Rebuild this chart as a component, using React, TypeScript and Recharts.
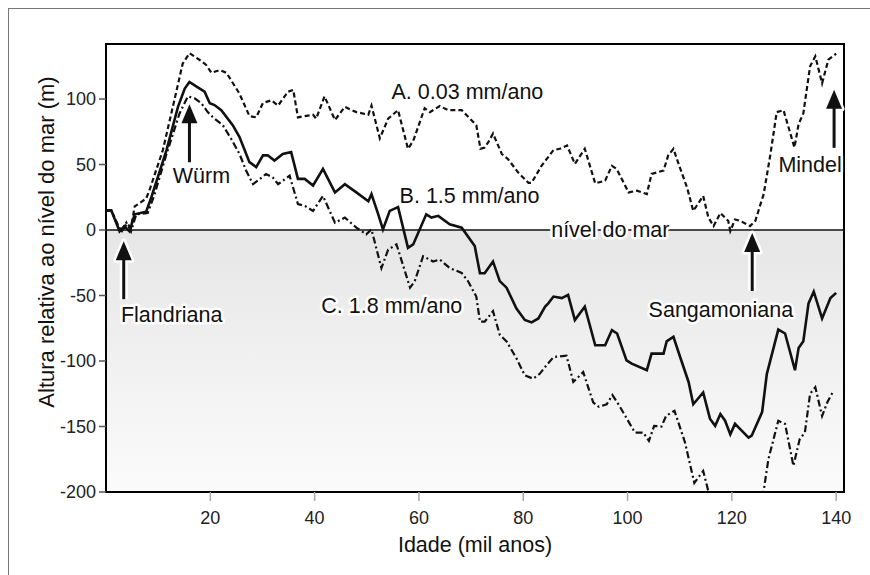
import React from 'react';
import { LineChart, Line, XAxis, YAxis, ReferenceArea, ReferenceLine, ReferenceDot } from 'recharts';

// idade (mil anos) e altura relativa ao nível do mar (m)
const ageA = [0, 1, 2.5, 3.2, 4, 4.8, 5.5, 7.7, 8.3, 10.9, 13.1, 14.7, 16, 17.9, 19.2, 20.2, 21.8, 23.1, 25.6, 27.5,
  28.8, 30.1, 31.7, 33, 34.9, 35.9, 36.8, 39.7, 40.3, 41.9, 43.9, 45.8, 48, 50.3, 50.9, 52.5, 54.1, 56, 57.9, 58.9,
  61.1, 62.1, 64, 65.6, 68.2, 71, 71.8, 72.6, 73.3, 74.2, 75.9, 77.1, 79, 81, 81.6, 83.5, 85.8, 87, 88.4, 89.9,
  91.8, 93.8, 95.7, 97, 97.9, 100.2, 101.8, 103.7, 104.6, 106.9, 107.8, 108.8, 110, 111.4, 112.6, 114.5, 115.5,
  116.5, 117.8, 119.3, 119.7, 120.6, 121.6, 123.5, 124.5, 126.1, 127.4, 128.6, 129.9, 132, 132.8, 133.7, 135, 136,
  137.3, 138.5, 140];
const levelA = [15, 15, 2, -1, 5, 2, 18, 24, 30, 61, 99, 127, 135, 130, 126, 120, 122, 120, 104, 87,
  86, 97, 99, 95, 105.6, 107, 86, 88, 85, 102, 84, 94, 90, 88, 95, 70, 85, 91.5, 62, 68,
  93, 90, 94.6, 91.5, 91.5, 80, 62, 63, 67, 73.6, 58, 54, 44, 36, 36, 49, 61, 62, 64.6, 50.5,
  62, 35.6, 37.7, 49, 46.7, 28.7, 30, 27.4, 42.8, 45.4, 57, 62, 48, 32.5, 14.6, 26, 9.5,
  3, 13, 7, -0.8, 8, 7, 3, 7, 27.4, 58, 90, 91.5, 63, 81, 89, 125, 132.6,
  112, 130, 134.6];

const ageB = [0, 1, 2.6, 3.5, 4.5, 5.5, 7.7, 8.7, 11.6, 13.8, 15.1, 16, 17.3, 18.9, 19.9, 20.8, 22.1, 24.3, 25.6, 27.5,
  28.8, 30.1, 31, 32.3, 33.9, 35.5, 36.8, 38.1, 39.7, 41.6, 43.9, 45.8, 48, 50.3, 50.9, 52.2, 53.1, 54.4, 56, 57.9,
  58.9, 61.4, 62.4, 63.7, 65.9, 68.2, 70.7, 71.7, 72.6, 74.2, 75.5, 76.8, 78.7, 80.3, 81.6, 82.9, 84.2, 84.8, 85.8, 87.4,
  88.6, 89.9, 91.8, 93.8, 95.7, 97, 98, 99.8, 100.8, 103.7, 104.6, 106.9, 107.5, 108.8, 110, 111.7, 112.6, 114.5, 115.8, 116.8,
  117.8, 118.7, 119.7, 120.6, 123.2, 123.8, 125.8, 126.7, 128.9, 130.2, 132.1, 132.8, 133.7, 134.7, 135.7, 137.3, 138.9, 140];
const levelB = [15, 15, -1, 3, -1, 12, 14, 25, 61, 94, 108, 113, 109.6, 105.6, 96.7, 95.4, 91.5, 80, 71, 51.8,
  48, 57, 57, 53, 58, 59.5, 39, 39, 34, 46.7, 28.7, 35, 28.7, 22, 27.4, 12, 0.5, 14.6, 17.5, -13.6,
  -11, 12, 9.5, 10.8, 4.4, 1.8, -12.3, -33, -33, -24, -39, -44, -60, -68.7, -70.5, -67.5, -58.5, -56, -50.8, -52,
  -49.5, -68.7, -58.5, -88, -88, -76.4, -79, -99.5, -102, -107, -94.4, -94.4, -85, -81.5, -96, -116, -133, -124, -144, -149.5,
  -140.5, -145.6, -156, -148, -158.5, -157, -139, -110, -76, -79, -107, -90, -85, -56, -47, -67.5, -52, -48];

const ageC = [0, 1, 2.9, 3.9, 4.8, 5.8, 8, 9.3, 11.6, 14.1, 15.7, 17, 18.3, 19.5, 20.8, 22.4, 24, 25.6, 26.9, 28.2,
  29.5, 30.7, 32, 33, 35.2, 36.8, 38.1, 39.7, 41.6, 43.9, 45.8, 48, 49.9, 50.9, 52.8, 54.1, 55.7, 58.3, 59.2, 60.8,
  62.7, 64, 65.9, 68.2, 69.4, 71, 71.7, 72.6, 74.2, 75.5, 76.8, 78.7, 80.3, 81.9, 83.2, 84.5, 85.8, 88.3, 89.6, 91.5,
  93.4, 94.5, 96, 97.1, 98.4, 100.3, 101.4, 103, 104.1, 105.1, 106.5, 107.4, 109, 111, 112.8, 114.5, 116.5, 125.5, 127, 128.9,
  130.2, 131.8, 133, 134, 135, 136, 137.3, 138.3, 139.5];
const levelC = [15, 15, -2, 5.6, -1, 12, 13, 27, 58, 89, 102, 100.5, 96.7, 90, 85, 80, 69.6, 58, 45, 35,
  39, 42.8, 40, 35, 41.5, 19.8, 18.5, 14.6, 26, 5.6, 9.5, 1.8, -3.3, 0.5, -29, -15, -11, -44, -39, -20,
  -24, -22.5, -29, -32.8, -39, -50.8, -70, -70, -62, -80, -85, -98, -111, -113.5, -109.6, -103, -97, -96, -116, -108.5,
  -131.5, -135, -133, -126, -134, -147, -154.6, -154.6, -161, -149.5, -150, -141.8, -138, -162, -193, -184, -215, -215, -175, -145.6,
  -148, -180, -159.7, -154.6, -125, -120, -142, -131.5, -122.6];

const xTicks = [20, 40, 60, 80, 100, 120, 140];
const yTicks = [-200, -150, -100, -50, 0, 50, 100];

const seriesA = ageA.map((age, i) => ({ age, level: levelA[i] }));
const seriesB = ageB.map((age, i) => ({ age, level: levelB[i] }));
const seriesC = ageC.map((age, i) => ({ age, level: levelC[i] }));

// textos e setas do gráfico (posição em idade / altura)
const notes = [
  { text: 'A. 0.03 mm/ano', age: 69.3, level: 105 },
  { text: 'B. 1.5 mm/ano', age: 69.7, level: 26 },
  { text: 'C. 1.8 mm/ano', age: 54.8, level: -58 },
  { text: 'nível do mar', age: 96.7, level: 0 },
  { text: 'Würm', age: 18.3, level: 41.5 },
  { text: 'Flandriana', age: 12.6, level: -64.6 },
  { text: 'Sangamoniana', age: 117.9, level: -60.8 },
  { text: 'Mindel', age: 135, level: 50 },
];
const arrows = [
  { age: 16.0, level: 96 },
  { age: 3.4, level: -8.5 },
  { age: 123.9, level: -2.3 },
  { age: 139.6, level: 107 },
];

const FONT = 'Arial, "Liberation Sans", sans-serif';
const INK = '#111';

const NoteText = (props: any) => {
  const { cx, cy, text } = props;
  return (
    <text x={cx} y={cy} textAnchor="middle" dominantBaseline="central" fontFamily={FONT} fontSize={21.5}
      fill={INK} stroke="#fff" strokeWidth={5} strokeLinejoin="round" paintOrder="stroke">
      {text}
    </text>
  );
};

const Arrow = (props: any) => {
  const { cx, cy } = props;
  const head = `M${cx},${cy} L${cx - 8},${cy + 19} L${cx + 8},${cy + 19} Z`;
  return (
    <g>
      <path d={head} fill="#fff" stroke="#fff" strokeWidth={5} strokeLinejoin="round" />
      <line x1={cx} y1={cy + 15} x2={cx} y2={cy + 58} stroke="#fff" strokeWidth={8} />
      <line x1={cx} y1={cy + 15} x2={cx} y2={cy + 58} stroke={INK} strokeWidth={3} />
      <path d={head} fill={INK} />
    </g>
  );
};

// títulos dos eixos com posição fixa (ignoram as props que o Recharts injeta)
const XTitle = () => (
  <text x={475} y={545} textAnchor="middle" dominantBaseline="central" fontFamily={FONT} fontSize={21.5} fill={INK}>
    Idade (mil anos)
  </text>
);
const YTitle = () => (
  <text x={46} y={242} transform="rotate(-90 46 242)" textAnchor="middle" dominantBaseline="central"
    fontFamily={FONT} fontSize={22} fill={INK}>
    Altura relativa ao nível do mar (m)
  </text>
);

export default function App() {
  return (
    <div style={{ position: 'absolute', left: 0, top: 0, width: 870, height: 575, background: '#fff', overflow: 'hidden' }}>
      <div style={{ position: 'absolute', left: 8, top: 8, width: 900, height: 600, borderLeft: '1px solid #777', borderTop: '1px solid #777' }} />
      <LineChart width={870} height={575} margin={{ top: 44, right: 26, left: 46, bottom: 23 }}>
        <defs>
          <linearGradient id="seaShade" x1="0" y1="0" x2="0" y2="1">
            <stop offset="0%" stopColor="#e6e6e6" />
            <stop offset="100%" stopColor="#fbfbfb" />
          </linearGradient>
        </defs>
        <XAxis
          type="number"
          dataKey="age"
          domain={[0, 141.5]}
          ticks={xTicks}
          allowDataOverflow
          axisLine={false}
          tickSize={9}
          tickMargin={10}
          tickLine={{ stroke: '#aaa', strokeWidth: 1.5 }}
          tick={{ fill: '#222', fontSize: 18, fontFamily: FONT }}
          height={60}
          label={<XTitle />}
        />
        <YAxis
          type="number"
          dataKey="level"
          domain={[-200, 142]}
          ticks={yTicks}
          allowDataOverflow
          axisLine={false}
          width={60}
          tickSize={7}
          tickMargin={3}
          tickLine={{ stroke: '#555', strokeWidth: 1.5 }}
          tick={{ fill: '#222', fontSize: 18, fontFamily: FONT }}
          label={<YTitle />}
        />
        <ReferenceArea x1={0} x2={141.5} y1={-200} y2={0} fill="url(#seaShade)" fillOpacity={1} stroke="none" />
        <ReferenceLine y={0} stroke={INK} strokeWidth={1.5} />
        <Line data={seriesA} dataKey="level" type="linear" stroke={INK} strokeWidth={2.2} strokeDasharray="5 3" dot={false} isAnimationActive={false} />
        <Line data={seriesC} dataKey="level" type="linear" stroke={INK} strokeWidth={2.2} strokeDasharray="7 3 2 3" dot={false} isAnimationActive={false} />
        <Line data={seriesB} dataKey="level" type="linear" stroke={INK} strokeWidth={2.6} dot={false} isAnimationActive={false} />
        <ReferenceArea x1={0} x2={141.5} y1={-200} y2={142} fill="none" stroke="#000" strokeWidth={2} />
        {arrows.map((a, i) => (
          <ReferenceDot key={'ar' + i} x={a.age} y={a.level} r={0} shape={(p: any) => <Arrow {...p} />} />
        ))}
        {notes.map((n, i) => (
          <ReferenceDot key={'nt' + i} x={n.age} y={n.level} r={0} shape={(p: any) => <NoteText {...p} text={n.text} />} />
        ))}
      </LineChart>
    </div>
  );
}
